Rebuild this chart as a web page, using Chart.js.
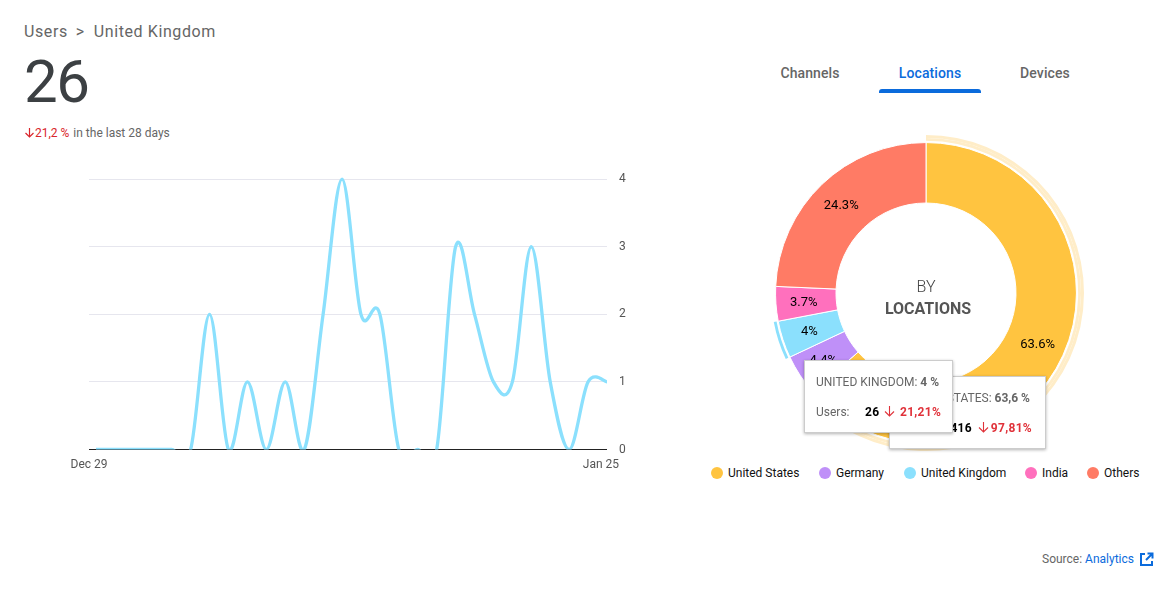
<!DOCTYPE html>
<html>
<head>
<meta charset="utf-8">
<title>Users - United Kingdom</title>
<script src="https://cdn.jsdelivr.net/npm/chart.js@4"></script>
<style>
html, body { margin: 0; padding: 0; background: #fff; }
body { width: 1176px; height: 590px; position: relative; overflow: hidden; font-family: Roboto, sans-serif; }
.abs { position: absolute; white-space: nowrap; }
.crumb { left: 24px; top: 22px; font-size: 16px; line-height: 19px; letter-spacing: 0.6px; color: #666; }
.crumb span { margin: 0 9px 0 8px; }
.total { left: 24px; top: 46px; font-size: 60px; line-height: 72px; color: #3c4043; letter-spacing: -1.5px; }
.delta { left: 24px; top: 125px; font-size: 12px; line-height: 16px; color: #666; }
.red { color: #d9252b; margin-right: 1px; }
.tab { top: 65px; font-size: 14px; line-height: 17px; font-weight: 500; color: #666; transform: translateX(-50%); letter-spacing: 0.1px; }
.tab.on { color: #0b6bdc; }
.tabbar { left: 879px; top: 89px; width: 102px; height: 4px; background: #0b6bdc; border-radius: 3px 3px 0 0; }
#lineBox { position: absolute; left: 0; top: 160px; width: 640px; height: 310px; }
#donutBox { position: absolute; left: 768px; top: 135px; width: 316px; height: 316px; }
.by { left: 926px; top: 277px; font-size: 16px; line-height: 20px; font-weight: 300; color: #444; transform: translateX(-50%); }
.loc { left: 928px; top: 299px; font-size: 16px; line-height: 20px; font-weight: 700; color: #555; transform: translateX(-50%); }
.tip { position: absolute; background: #fff; border: 1px solid #ccc; box-shadow: 0 1px 3px rgba(0,0,0,.3); box-sizing: border-box; font-size: 12px; color: #666; }
.tip div { position: absolute; white-space: nowrap; line-height: 14px; }
.tip b { font-weight: 700; }
.tip .num { color: #000; font-weight: 700; letter-spacing: 0.3px; }
.tip .pct { color: #e0323a; font-weight: 700; letter-spacing: 0.3px; }
.dot { width: 12px; height: 12px; border-radius: 50%; top: 467px; }
.leg { top: 466px; font-size: 12px; line-height: 14px; color: #111; }
.src { left: 1042px; top: 552px; font-size: 12px; line-height: 14px; color: #666; }
.src span { color: #0b6bdc; }
</style>
</head>
<body>
<div class="abs crumb">Users<span>&gt;</span>United Kingdom</div>
<div class="abs total">26</div>
<div class="abs delta"><svg width="11" height="11" viewBox="0 0 11 11" style="vertical-align:-1px"><path d="M5.5 1v9M1.5 6l4 4 4-4" fill="none" stroke="#d9252b" stroke-width="1.2"/></svg><span class="red">21,2 %</span> in the last 28 days</div>

<div class="abs tab" style="left:810px">Channels</div>
<div class="abs tab on" style="left:930px">Locations</div>
<div class="abs tab" style="left:1045px">Devices</div>
<div class="abs tabbar"></div>

<div id="lineBox"><canvas id="lineChart"></canvas></div>
<div id="donutBox"><canvas id="donutChart"></canvas></div>
<div class="abs by">BY</div>
<div class="abs loc">LOCATIONS</div>

<div class="tip" style="left:889px;top:376px;width:157px;height:73px">
  <div style="right:15px;top:14px">UNITED STATES: <b>63,6 %</b></div>
  <div style="left:14px;top:44px">Users:</div>
  <div class="num" style="right:73px;top:44px">416</div>
  <div style="left:88px;top:44px"><svg width="11" height="12" viewBox="0 0 11 12"><path d="M5.5 1v10M1 6.5l4.5 4.5 4.5-4.5" fill="none" stroke="#e0323a" stroke-width="1.1"/></svg></div>
  <div class="pct" style="right:13px;top:44px">97,81%</div>
</div>
<div class="tip" style="left:804px;top:360px;width:149px;height:73px">
  <div style="left:11px;top:14px">UNITED KINGDOM: <b>4 %</b></div>
  <div style="left:11px;top:44px">Users:</div>
  <div class="num" style="left:60px;top:44px">26</div>
  <div style="left:79px;top:44px"><svg width="11" height="12" viewBox="0 0 11 12"><path d="M5.5 1v10M1 6.5l4.5 4.5 4.5-4.5" fill="none" stroke="#e0323a" stroke-width="1.1"/></svg></div>
  <div class="pct" style="left:95px;top:44px">21,21%</div>
</div>

<div id="legend"></div>

<div class="abs src">Source: <span>Analytics</span></div>
<svg class="abs" style="left:1139px;top:552px" width="15" height="15" viewBox="0 0 15 15"><path d="M6 2H2v11h11V9M8.5 1.5h5v5M13.5 1.5L7 8" fill="none" stroke="#0b6bdc" stroke-width="2"/></svg>

<script>
// line chart: one point per day, Dec 29 -> Jan 25
var dailyUsers = [0, 0, 0, 0, 0, 0, 2, 0, 1, 0, 1, 0, 2, 4, 2, 2, 0, 0, 0, 3, 2, 1, 1, 3, 1, 0, 1, 1];
var dateLabels = ['Dec 29', 'Jan 25'];
var userTicks = [0, 1, 2, 3, 4];

// doughnut
var locations = ['United States', 'Germany', 'United Kingdom', 'India', 'Others'];
var locationShare = [63.6, 4.4, 4, 3.7, 24.3];
var locationColors = ['#ffc440', '#bf90f8', '#8be0fd', '#ff70bd', '#ff7b65'];
var outerRingColors = ['#ffedc8', 'transparent', 'transparent', 'transparent', 'transparent'];
var innerRingColors = ['#ffedc8', 'transparent', '#8be0fd', 'transparent', 'transparent'];

Chart.defaults.font.family = 'Roboto, sans-serif';
Chart.defaults.font.size = 12;
Chart.defaults.animation = false;

function linePoints() {
    var pts = new Array();
    for (var i = 0; i < dailyUsers.length; i++) {
        pts.push({ x: i, y: dailyUsers[i] });
    }
    return pts;
}

// the reference curve is a plain catmull-rom, chart.js scales its tangents by
// pixel distance so swap the control points before the line gets drawn
var catmullRom = {
    id: 'catmullRom',
    beforeDatasetDraw: function (chart, args) {
        var meta = args.meta;
        meta.dataset.updateControlPoints(chart.chartArea);
        var pts = meta.data;
        for (var i = 0; i < pts.length; i++) {
            var prev = pts[Math.max(i - 1, 0)];
            var next = pts[Math.min(i + 1, pts.length - 1)];
            var dx = (next.x - prev.x) / 6;
            var dy = (next.y - prev.y) / 6;
            pts[i].cp1x = pts[i].x - dx;
            pts[i].cp1y = pts[i].y - dy;
            pts[i].cp2x = pts[i].x + dx;
            pts[i].cp2y = pts[i].y + dy;
        }
    }
};

new Chart(document.getElementById('lineChart').getContext('2d'), {
    type: 'line',
    plugins: [catmullRom],
    data: {
        datasets: [{
            data: linePoints(),
            borderColor: '#8be0fd',
            borderWidth: 3.3,
            pointRadius: 0,
            tension: 0.4,
            capBezierPoints: false,
            clip: { left: 0, right: 0, top: 2, bottom: 0 }
        }]
    },
    options: {
        responsive: true,
        maintainAspectRatio: false,
        plugins: { legend: { display: false }, tooltip: { enabled: false } },
        layout: { padding: { left: 89 } },
        scales: {
            x: {
                type: 'linear',
                min: -0.37,
                max: 27,
                grid: { display: false },
                border: { display: false },
                afterBuildTicks: function (scale) {
                    scale.ticks = [{ value: -0.37 }, { value: 26.68 }];
                },
                afterFit: function (scale) { scale.height = 20.5; },
                ticks: {
                    autoSkip: false,
                    maxRotation: 0,
                    padding: 0,
                    color: '#555',
                    callback: function (value, index) { return dateLabels[index]; }
                }
            },
            y: {
                position: 'right',
                min: 0,
                max: 4,
                afterBuildTicks: function (scale) {
                    scale.ticks = userTicks.map(function (v) { return { value: v }; });
                },
                afterFit: function (scale) { scale.width = 33; },
                border: { display: false },
                grid: {
                    drawTicks: false,
                    color: function (ctx) { return ctx.tick.value === 0 ? '#222' : '#e6e6ee'; },
                    lineWidth: 1
                },
                ticks: { padding: 12, color: '#555' }
            }
        }
    }
});

// percent labels in the slices of the main ring
var sliceLabels = {
    id: 'sliceLabels',
    afterDatasetsDraw: function (chart) {
        var ctx = chart.ctx;
        var arcs = chart.getDatasetMeta(3).data;
        ctx.save();
        ctx.font = '13px Roboto, sans-serif';
        ctx.fillStyle = '#000';
        ctx.textAlign = 'center';
        ctx.textBaseline = 'middle';
        for (var i = 0; i < arcs.length; i++) {
            var p = arcs[i].getCenterPoint();
            var cx = arcs[i].x;
            var cy = arcs[i].y;
            ctx.fillText(locationShare[i] + '%', cx + (p.x - cx) * 1.02, cy + (p.y - cy) * 1.02 + 1);
        }
        ctx.restore();
    }
};

new Chart(document.getElementById('donutChart').getContext('2d'), {
    type: 'doughnut',
    plugins: [sliceLabels],
    data: {
        labels: locations,
        datasets: [
            { data: locationShare, backgroundColor: outerRingColors, borderWidth: 0, weight: 3 },
            { data: locationShare, backgroundColor: innerRingColors, borderWidth: 0, weight: 2.8 },
            { data: [], weight: 1.7 }, // white gap between the rings
            { data: locationShare, backgroundColor: locationColors, borderColor: '#fff', borderWidth: 1, weight: 60 }
        ]
    },
    options: {
        responsive: true,
        maintainAspectRatio: false,
        cutout: 90,
        plugins: { legend: { display: false }, tooltip: { enabled: false } }
    }
});

// legend row under the doughnut
var legendDotX = [711, 819, 904, 1025, 1087];
var legendBox = document.getElementById('legend');
for (var i = 0; i < locations.length; i++) {
    var dot = document.createElement('div');
    dot.className = 'abs dot';
    dot.style.left = legendDotX[i] + 'px';
    dot.style.background = locationColors[i];
    legendBox.appendChild(dot);
    var txt = document.createElement('div');
    txt.className = 'abs leg';
    txt.style.left = (legendDotX[i] + 17) + 'px';
    txt.textContent = locations[i];
    legendBox.appendChild(txt);
}
</script>
</body>
</html>
